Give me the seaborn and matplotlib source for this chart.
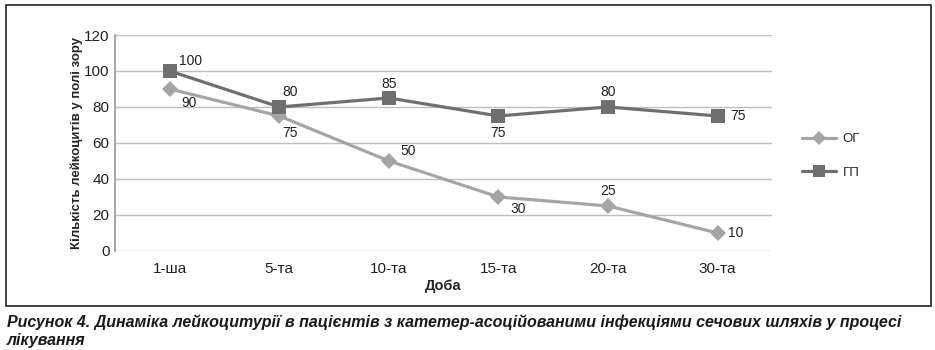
import matplotlib
matplotlib.use("Agg")
import matplotlib.pyplot as plt
import seaborn as sns
import pandas as pd
from matplotlib.patches import Rectangle

days = ["1-ша", "5-та", "10-та", "15-та", "20-та", "30-та"]
og_values = [90, 75, 50, 30, 25, 10]
gp_values = [100, 80, 85, 75, 80, 75]
series_names = ["ОГ", "ГП"]
y_ticks = [0, 20, 40, 60, 80, 100, 120]

# label offsets in points (dx, dy) for each data label
og_offsets = [(14, -10), (8, -12), (14, 7), (14, -9), (0, 11), (13, 0)]
gp_offsets = [(15, 7), (8, 11), (0, 10), (0, -12), (0, 11), (15, 0)]

sns.set_theme(style="white")
plt.rcParams["font.family"] = ["Liberation Sans", "DejaVu Sans"]

df = pd.DataFrame({
    "Доба": days * 2,
    "value": og_values + gp_values,
    "series": [series_names[0]] * len(days) + [series_names[1]] * len(days),
})

colors = {"ОГ": "#a5a5a5", "ГП": "#6f6f6f"}
markers = {"ОГ": "D", "ГП": "s"}

fig = plt.figure(figsize=(9.35, 3.5), dpi=100)
ax = fig.add_axes([0.123, 0.283, 0.703, 0.617])

sns.lineplot(data=df, x="Доба", y="value", hue="series", style="series",
             palette=colors, markers=markers, dashes=False, sort=False,
             linewidth=2.3, ax=ax, legend=False)
for line, name in zip(ax.lines, series_names):
    line.set_markersize(8 if name == "ОГ" else 10)
    line.set_markeredgewidth(0)

ax.set_xlim(-0.5, len(days) - 0.5)
ax.set_ylim(0, 120)
ax.set_yticks(y_ticks)
ax.yaxis.grid(True, color="#bdbdbd", linewidth=1)
ax.set_axisbelow(True)
for side in ["top", "right", "bottom"]:
    ax.spines[side].set_visible(False)
ax.spines["left"].set_color("#9a9a9a")
ax.tick_params(axis="both", labelsize=11, colors="#222222", length=0, pad=4)
ax.tick_params(axis="x", pad=8)
ax.set_xlabel("Доба", fontsize=10.5, fontweight="bold", labelpad=2)
ax.set_ylabel("Кількість лейкоцитів у полі зору", fontsize=9.5,
              fontweight="bold", labelpad=0.5)

for i, v in enumerate(og_values):
    ax.annotate(str(v), (i, v), xytext=og_offsets[i], textcoords="offset points",
                ha="center", va="center", fontsize=10, color="#222222")
for i, v in enumerate(gp_values):
    ax.annotate(str(v), (i, v), xytext=gp_offsets[i], textcoords="offset points",
                ha="center", va="center", fontsize=10, color="#222222")

handles = [plt.Line2D([], [], color=colors[n], marker=markers[n], linewidth=2.3,
                      markersize=7 if n == "ОГ" else 9, markeredgewidth=0)
           for n in series_names]
fig.legend(handles, series_names, loc="center left",
           bbox_to_anchor=(0.845, 0.555), frameon=False, fontsize=9.5,
           handlelength=2.6, labelspacing=1.6, handletextpad=0.5)

fig.add_artist(Rectangle((0.006, 0.126), 0.990, 0.860, transform=fig.transFigure,
                         fill=False, edgecolor="#222222", linewidth=1.2))

caption_font = dict(fontsize=11.5, fontweight="bold", fontstyle="italic",
                    color="#1a1a1a", va="center")
fig.text(0.007, 0.08,
         "Рисунок 4. Динаміка лейкоцитурії в пацієнтів з катетер-асоційованими інфекціями сечових шляхів у процесі",
         **caption_font)
fig.text(0.007, 0.027, "лікування", **caption_font)

fig.savefig("out.png", dpi=100, facecolor="white")
